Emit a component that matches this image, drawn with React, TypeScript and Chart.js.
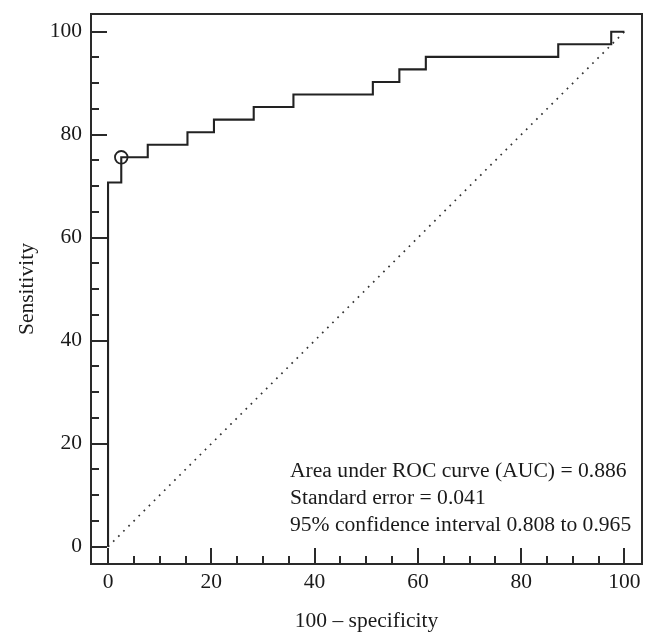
import React, { useEffect, useRef } from "react";
import { Chart, registerables } from "chart.js";

Chart.register(...registerables);

// ROC curve vertices (100 - specificity, sensitivity), drawn as a stepped line
const fpr = [0, 0, 2.56, 7.69, 15.38, 20.51, 28.21, 35.9, 51.28, 56.41, 61.54, 87.18, 97.44, 100];
const tpr = [0, 70.73, 75.61, 78.05, 80.49, 82.93, 85.37, 87.8, 90.24, 92.68, 95.12, 97.56, 100, 100];

// optimal cut-off marker
const cutX = [2.56];
const cutY = [75.61];

// reference (chance) diagonal
const diagX = [0, 100];
const diagY = [0, 100];

// axis ticks
const majorTicks = [0, 20, 40, 60, 80, 100];
const minorTicks = [5, 10, 15, 25, 30, 35, 45, 50, 55, 65, 70, 75, 85, 90, 95];

const xTitle = "100 \u2013 specificity";
const yTitle = "Sensitivity";
const annotationLines = [
  "Area under ROC curve (AUC) = 0.886",
  "Standard error = 0.041",
  "95% confidence interval 0.808 to 0.965",
];

const FONT = '"Liberation Serif", "Times New Roman", serif';
const INK = "#1a1a1a";

const framePlugin = {
  id: "frameTicks",
  afterDraw(chart: any) {
    const { ctx, chartArea: a } = chart;
    const xs = chart.scales.x;
    const ys = chart.scales.y;
    ctx.save();
    ctx.strokeStyle = "#2a2a2a";
    ctx.lineWidth = 2;
    ctx.strokeRect(a.left, a.top, a.right - a.left, a.bottom - a.top);
    ctx.beginPath();
    const all = [...majorTicks.map((v) => [v, 16]), ...minorTicks.map((v) => [v, 8])];
    for (const [v, len] of all) {
      const px = Math.round(xs.getPixelForValue(v));
      ctx.moveTo(px, a.bottom);
      ctx.lineTo(px, a.bottom - len);
      const py = Math.round(ys.getPixelForValue(v));
      ctx.moveTo(a.left, py);
      ctx.lineTo(a.left + len, py);
    }
    ctx.stroke();

    ctx.fillStyle = INK;
    ctx.font = `21.6px ${FONT}`;
    ctx.textAlign = "left";
    ctx.textBaseline = "alphabetic";
    const offsets = [87, 60.5, 33];
    annotationLines.forEach((t, i) => {
      ctx.fillText(t, a.left + 199, a.bottom - offsets[i]);
    });
    ctx.restore();
  },
};

export default function App() {
  const ref = useRef<HTMLCanvasElement>(null);

  useEffect(() => {
    if (!ref.current) return;
    const chart = new Chart(ref.current, {
      type: "line",
      data: {
        datasets: [
          {
            label: "ROC",
            data: fpr.map((x, i) => ({ x, y: tpr[i] })),
            stepped: true,
            borderColor: "#222222",
            borderWidth: 2.1,
            pointRadius: 0,
            fill: false,
          },
          {
            label: "Chance",
            data: diagX.map((x, i) => ({ x, y: diagY[i] })),
            borderColor: "#333333",
            borderWidth: 1.7,
            borderDash: [1.7, 5.5],
            pointRadius: 0,
            fill: false,
          },
          {
            label: "Cut-off",
            data: cutX.map((x, i) => ({ x, y: cutY[i] })),
            showLine: false,
            pointStyle: "circle",
            pointRadius: 6.3,
            pointBorderWidth: 1.8,
            pointBorderColor: "#222222",
            pointBackgroundColor: "rgba(0,0,0,0)",
          },
        ],
      },
      options: {
        responsive: false,
        animation: false,
        layout: { padding: { top: 14, right: 14, bottom: 0, left: 0 } },
        plugins: {
          legend: { display: false },
          tooltip: { enabled: false },
        },
        scales: {
          x: {
            type: "linear",
            min: -3.3,
            max: 103.4,
            grid: { display: false, drawTicks: false },
            border: { display: false },
            afterBuildTicks: (s: any) => {
              s.ticks = majorTicks.map((v) => ({ value: v }));
            },
            afterFit: (s: any) => {
              s.height = 77;
              s.paddingLeft = 0;
              s.paddingRight = 0;
            },
            ticks: {
              padding: 5.4,
              color: INK,
              maxRotation: 0,
              autoSkip: false,
              font: { family: FONT, size: 21.5 },
              callback: (v: any) => String(v),
            },
            title: {
              display: true,
              text: xTitle,
              color: INK,
              font: { family: FONT, size: 21.5 },
              padding: { top: 0, bottom: 6.4 },
            },
          },
          y: {
            type: "linear",
            min: -3.36,
            max: 103.44,
            grid: { display: false, drawTicks: false },
            border: { display: false },
            afterBuildTicks: (s: any) => {
              s.ticks = majorTicks.map((v) => ({ value: v }));
            },
            afterFit: (s: any) => {
              s.width = 91;
              s.paddingTop = 0;
              s.paddingBottom = 0;
            },
            ticks: {
              padding: 9,
              color: INK,
              autoSkip: false,
              font: { family: FONT, size: 21.5 },
              callback: (v: any) => String(v),
            },
            title: {
              display: true,
              text: yTitle,
              color: INK,
              font: { family: FONT, size: 21.5 },
              padding: { top: 14, bottom: 0 },
            },
          },
        },
      },
      plugins: [framePlugin],
    });
    return () => chart.destroy();
  }, []);

  return (
    <canvas
      ref={ref}
      width={656}
      height={641}
      style={{ position: "absolute", left: 0, top: 0, display: "block" }}
    />
  );
}
